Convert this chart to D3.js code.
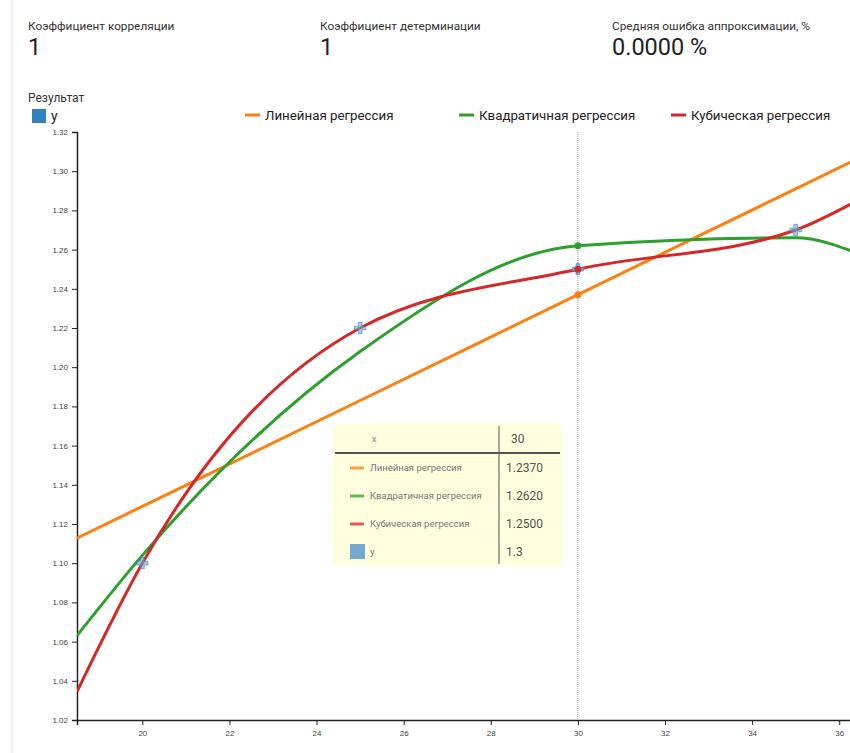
<!DOCTYPE html>
<html>
<head>
<meta charset="utf-8">
<script src="https://cdn.jsdelivr.net/npm/d3@7"></script>
<style>
  body { margin: 0; background: #fff; font-family: Roboto, "Noto Sans", sans-serif; overflow: hidden; }
  #chart { position: relative; width: 850px; height: 753px; }
  .axis text { font-family: Arial, "Liberation Sans", sans-serif; font-size: 8px; fill: #444; }
  .axis path, .axis line { stroke: #222; }
</style>
</head>
<body>
<div id="chart"></div>
<script>
// Data points
var xValues = [20, 25, 30, 35];
var yValues = [1.10, 1.22, 1.25, 1.27];

// Header statistics
var statLabels = ["Коэффициент корреляции", "Коэффициент детерминации", "Средняя ошибка аппроксимации, %"];
var statValues = ["1", "1", "0.0000 %"];

// Regression series
var seriesNames = ["Линейная регрессия", "Квадратичная регрессия", "Кубическая регрессия"];
var seriesDegrees = [1, 2, 3];
var seriesColors = ["#ff7f0e", "#2ca02c", "#d62728"];

// x range of the plot
var xDomain = [18.5, 36.5];

// Axis ticks
var xTicks = [20, 22, 24, 26, 28, 30, 32, 34, 36];
var yTicks = [1.02, 1.04, 1.06, 1.08, 1.10, 1.12, 1.14, 1.16, 1.18, 1.20, 1.22, 1.24, 1.26, 1.28, 1.30, 1.32];

// Hovered x (tooltip)
var hoverX = 30;
var hoverY = "1.3";

// Least squares polynomial fit
function polyFit(xs, ys, deg) {
  var n = deg + 1, A = [], i, j, k;
  for (i = 0; i < n; i++) {
    A.push([]);
    for (j = 0; j < n; j++) A[i].push(d3.sum(xs, function(x) { return Math.pow(x, i + j); }));
    A[i].push(d3.sum(xs, function(x, m) { return Math.pow(x, i) * ys[m]; }));
  }
  for (i = 0; i < n; i++) {
    var p = i;
    for (k = i + 1; k < n; k++) if (Math.abs(A[k][i]) > Math.abs(A[p][i])) p = k;
    var t = A[i]; A[i] = A[p]; A[p] = t;
    for (k = i + 1; k < n; k++) {
      var f = A[k][i] / A[i][i];
      for (j = i; j <= n; j++) A[k][j] -= f * A[i][j];
    }
  }
  var c = new Array(n);
  for (i = n - 1; i >= 0; i--) {
    var s = A[i][n];
    for (j = i + 1; j < n; j++) s -= A[i][j] * c[j];
    c[i] = s / A[i][i];
  }
  return function(x) { return d3.sum(c, function(v, m) { return v * Math.pow(x, m); }); };
}

// Centre x for numeric stability
var xMean = d3.mean(xValues);
var models = seriesDegrees.map(function(d) {
  var f = polyFit(xValues.map(function(x) { return x - xMean; }), yValues, d);
  return function(x) { return f(x - xMean); };
});

var width = 850, height = 753;
var svg = d3.select("#chart").append("svg")
  .attr("width", width)
  .attr("height", height)
  .style("font-family", "Roboto, 'Noto Sans', sans-serif");

// Card left edge
svg.append("line")
  .attr("x1", 12).attr("x2", 12).attr("y1", 0).attr("y2", height)
  .style("stroke", "#ececec").style("stroke-width", 1.5);

// Header stats
var statX = [28, 320, 612];
statLabels.forEach(function(d, i) {
  svg.append("text").attr("x", statX[i]).attr("y", 30)
    .style("font-size", "11.8px").style("fill", "#333").text(d);
  svg.append("text").attr("x", statX[i]).attr("y", 55)
    .style("font-size", "23.5px").style("fill", "#222").text(statValues[i]);
});

// Legend
svg.append("text").attr("x", 28).attr("y", 102)
  .style("font-size", "12px").style("fill", "#333").text("Результат");
svg.append("rect").attr("x", 32).attr("y", 109).attr("width", 14).attr("height", 14)
  .style("fill", "#3182bd");
svg.append("text").attr("x", 51).attr("y", 121)
  .style("font-size", "14px").style("fill", "#222").text("y");

var legendX = [245, 459, 671];
seriesNames.forEach(function(d, i) {
  svg.append("line")
    .attr("x1", legendX[i]).attr("x2", legendX[i] + 15)
    .attr("y1", 115).attr("y2", 115)
    .style("stroke", seriesColors[i]).style("stroke-width", 3);
  svg.append("text").attr("x", legendX[i] + 20).attr("y", 120)
    .style("font-size", "13.3px").style("fill", "#222").text(d);
});

// Scales
var xScale = d3.scaleLinear().domain(xDomain).range([77, 861]);
var yScale = d3.scaleLinear().domain([1.02, 1.32]).range([720, 132]);

svg.append("g").attr("class", "x axis")
  .attr("transform", "translate(0,720)")
  .call(d3.axisBottom(xScale).tickValues(xTicks).tickSize(5).tickPadding(5).tickFormat(d3.format("d")));

svg.append("g").attr("class", "y axis")
  .attr("transform", "translate(77,0)")
  .call(d3.axisLeft(yScale).tickValues(yTicks).tickSize(5).tickPadding(4).tickFormat(d3.format(".2f")));

svg.selectAll(".axis path").style("stroke-width", 1.5);

// Hover guide
svg.append("line")
  .attr("x1", xScale(hoverX)).attr("x2", xScale(hoverX))
  .attr("y1", yScale(1.32)).attr("y2", yScale(1.02))
  .style("stroke", "#999").style("stroke-dasharray", "1,1").style("stroke-width", 1);

// Regression curves: model evaluated at domain ends and at each data x
var curveX = [xDomain[0]].concat(xValues, [xDomain[1]]);
var line = d3.line()
  .x(function(d) { return xScale(d[0]); })
  .y(function(d) { return yScale(d[1]); })
  .curve(d3.curveMonotoneX);

svg.append("clipPath").attr("id", "plot-clip")
  .append("rect").attr("x", 77).attr("y", 125).attr("width", 800).attr("height", 596);

var plot = svg.append("g").attr("clip-path", "url(#plot-clip)");

models.forEach(function(f, i) {
  plot.append("path")
    .datum(curveX.map(function(x) { return [x, f(x)]; }))
    .attr("d", line)
    .style("fill", "none")
    .style("stroke", seriesColors[i])
    .style("stroke-width", 3);
});

// Data markers
var cross = d3.symbol().type(d3.symbolCross).size(70);
svg.selectAll("path.point")
  .data(xValues)
  .enter()
  .append("path")
  .attr("class", "point")
  .attr("d", cross)
  .attr("transform", function(d, i) { return "translate(" + xScale(d) + "," + yScale(yValues[i]) + ")"; })
  .style("fill", "#6baed6")
  .style("fill-opacity", function(d) { return d === hoverX ? 0.9 : 0.6; })
  .style("stroke", "#3182bd")
  .style("stroke-opacity", 0.6)
  .style("stroke-width", 1);

// Hover dots
models.forEach(function(f, i) {
  svg.append("circle")
    .attr("cx", xScale(hoverX)).attr("cy", yScale(f(hoverX)))
    .attr("r", 3.5)
    .style("fill", seriesColors[i]);
});

// Tooltip
var tip = svg.append("g").attr("transform", "translate(333,424)");
tip.append("rect").attr("width", 229).attr("height", 142).attr("rx", 4)
  .style("fill", "#ffffdf");
tip.append("line").attr("x1", 166).attr("x2", 166).attr("y1", 2).attr("y2", 140)
  .style("stroke", "#555").style("stroke-width", 1);
tip.append("line").attr("x1", 2).attr("x2", 227).attr("y1", 29).attr("y2", 29)
  .style("stroke", "#555").style("stroke-width", 2);
tip.append("text").attr("x", 39).attr("y", 18)
  .style("font-size", "9px").style("fill", "#888").text("x");
tip.append("text").attr("x", 178).attr("y", 19)
  .style("font-size", "12px").style("fill", "#555").text(hoverX);

var tipRows = seriesNames.map(function(d, i) {
  return { name: d, color: seriesColors[i], value: d3.format(".4f")(models[i](hoverX)), swatch: "line" };
});
tipRows.push({ name: "y", color: "#74a9cf", value: hoverY, swatch: "rect" });

tipRows.forEach(function(d, i) {
  var y = 44 + i * 28;
  if (d.swatch === "line") {
    tip.append("line").attr("x1", 17).attr("x2", 31).attr("y1", y).attr("y2", y)
      .style("stroke", d.color).style("stroke-opacity", 0.75).style("stroke-width", 3);
  } else {
    tip.append("rect").attr("x", 17).attr("y", y - 8).attr("width", 15).attr("height", 15)
      .style("fill", d.color);
  }
  tip.append("text").attr("x", 37).attr("y", y + 3)
    .style("font-size", "9.5px").style("fill", "#777").text(d.name);
  tip.append("text").attr("x", 173).attr("y", y + 4)
    .style("font-size", "12px").style("fill", "#555").text(d.value);
});
</script>
</body>
</html>
